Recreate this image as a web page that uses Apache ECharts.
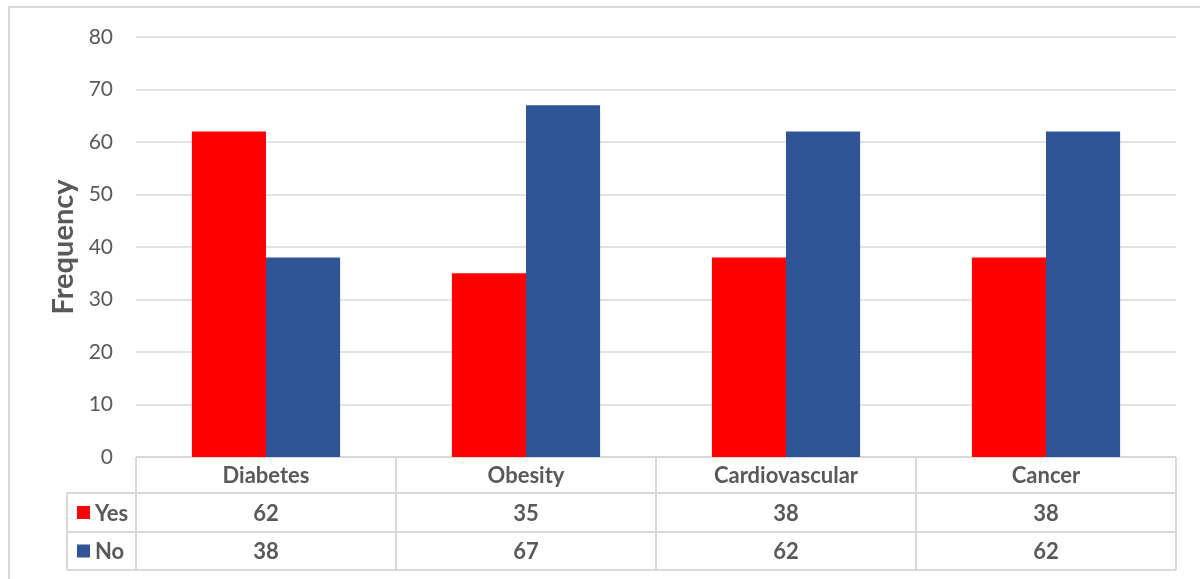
<!DOCTYPE html>
<html>
<head>
<meta charset="utf-8">
<script src="https://cdn.jsdelivr.net/npm/echarts@6/dist/echarts.min.js"></script>
<style>
  html, body { margin: 0; padding: 0; background: #fff; }
  #chart { width: 1200px; height: 579px; }
</style>
</head>
<body>
<div id="chart"></div>
<script>
// Survey answers per condition
const categories = ['Diabetes', 'Obesity', 'Cardiovascular', 'Cancer'];
const yesValues = [62, 35, 38, 38];
const noValues = [38, 67, 62, 62];
const seriesNames = ['Yes', 'No'];
const seriesColors = ['#FF0000', '#2F5597'];
const yMin = 0, yMax = 80, yStep = 10;

const FONT = 'Lato, "Open Sans", sans-serif';
const TEXT = '#595959';
const LINE = '#D9D9D9';

const chart = echarts.init(document.getElementById('chart'), null, { renderer: 'canvas' });

const option = {
  animation: false,
  backgroundColor: '#fff',
  grid: { left: 136, right: 24, top: 37, bottom: 122, containLabel: false },
  xAxis: {
    type: 'category',
    data: categories,
    axisLine: { show: false },
    axisTick: { show: false },
    axisLabel: { show: false }
  },
  yAxis: {
    type: 'value',
    min: yMin, max: yMax, interval: yStep,
    name: 'Frequency',
    nameLocation: 'middle',
    nameGap: 56,
    nameTextStyle: { fontFamily: FONT, fontSize: 29, fontWeight: 'bold', color: TEXT },
    axisLine: { show: false },
    axisTick: { show: false },
    axisLabel: { fontFamily: FONT, fontSize: 21, color: TEXT, margin: 23 },
    splitLine: { lineStyle: { color: LINE, width: 1.5 } }
  },
  series: [
    { name: seriesNames[0], type: 'bar', data: yesValues, barGap: '0%', barCategoryGap: '43%',
      itemStyle: { color: seriesColors[0] } },
    { name: seriesNames[1], type: 'bar', data: noValues, barGap: '0%', barCategoryGap: '43%',
      itemStyle: { color: seriesColors[1] } }
  ]
};
chart.setOption(option);

// Data table under the plot, aligned with the category bands
function buildTable() {
  const c0 = chart.convertToPixel({ xAxisIndex: 0 }, 0);
  const c1 = chart.convertToPixel({ xAxisIndex: 0 }, 1);
  const half = (c1 - c0) / 2;
  const top = chart.convertToPixel({ yAxisIndex: 0 }, yMin);
  const rowH = [36, 39, 38];
  const y1 = top + rowH[0], y2 = y1 + rowH[1], y3 = y2 + rowH[2];
  const xL = c0 - half;
  const xR = chart.convertToPixel({ xAxisIndex: 0 }, categories.length - 1) + half;
  const legendL = 67;
  const ls = { stroke: LINE, lineWidth: 2 };
  const els = [];
  const hline = (xa, xb, y) => els.push({ type: 'line', shape: { x1: xa, y1: y, x2: xb, y2: y }, style: ls, silent: true });
  const vline = (x, ya, yb) => els.push({ type: 'line', shape: { x1: x, y1: ya, x2: x, y2: yb }, style: ls, silent: true });

  hline(xL, xR, top);
  hline(legendL, xR, y1);
  hline(legendL, xR, y2);
  hline(legendL, xR, y3);
  vline(legendL, y1, y3);
  for (let i = 0; i <= categories.length; i++) {
    vline(xL + i * 2 * half, top, y3);
  }

  const txt = (x, y, s, align) => els.push({
    type: 'text', x: x, y: y, silent: true,
    style: { text: s, fill: TEXT, font: 'bold 22px ' + FONT, textAlign: align || 'center', textVerticalAlign: 'middle' }
  });

  const rows = [yesValues, noValues];
  const rowMid = [(y1 + y2) / 2, (y2 + y3) / 2];
  categories.forEach((cat, i) => {
    const cx = chart.convertToPixel({ xAxisIndex: 0 }, i);
    txt(cx, (top + y1) / 2 + 1, cat);
    rows.forEach((vals, r) => txt(cx, rowMid[r] + 1, String(vals[i])));
  });
  seriesNames.forEach((n, r) => {
    els.push({ type: 'rect', shape: { x: 77, y: rowMid[r] - 6.5, width: 13, height: 13 },
      style: { fill: seriesColors[r] }, silent: true });
    txt(95, rowMid[r] + 1, n, 'left');
  });

  // chart area frame
  els.push({ type: 'polyline', shape: { points: [[9, 579], [9, 7], [1200, 7]] },
    style: { stroke: LINE, lineWidth: 2, fill: null }, silent: true });

  chart.setOption({ graphic: { elements: els } });
}
buildTable();
</script>
</body>
</html>
